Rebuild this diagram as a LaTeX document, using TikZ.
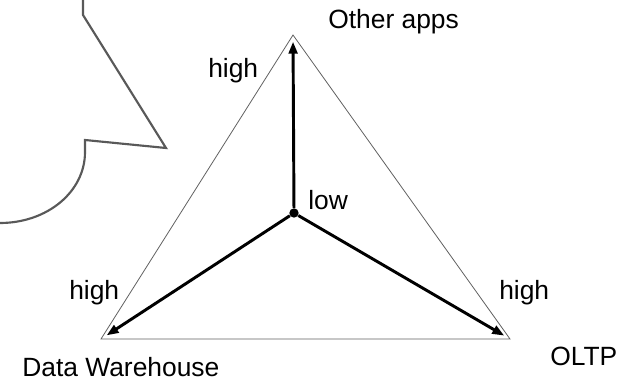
\documentclass[tikz,border=0pt]{standalone}
\usepackage{fontspec}
\setmainfont{Liberation Sans}
\usetikzlibrary{arrows.meta,positioning}
\usepackage{xcolor}

\begin{document}
\begin{tikzpicture}[
    x=0.75pt, y=-0.75pt,
    label/.style={font=\fontsize{19.8}{22}\selectfont, anchor=base west, inner sep=0pt},
    edge/.style={draw=gray!75!black, line width=0.6pt},
    flow/.style={-{Triangle[length=9pt,width=6.5pt]}, line width=2.2pt, shorten >=5pt},
    bubble/.style={draw=black!65, line width=1.6pt, line join=miter}
]
\useasboundingbox (0,0) rectangle (627,381);

% corners of the triangle
\coordinate (apps) at (293,35);
\coordinate (dw) at (101,339);
\coordinate (oltp) at (510,339);
\node[circle, fill=black, inner sep=0pt, minimum size=7pt] (hub) at (294,213) {};

\draw[edge] (apps) -- (dw) -- (oltp) -- cycle;

\draw[flow] (hub) -- (apps);
\draw[flow] (hub) -- (dw);
\draw[flow] (hub) -- (oltp);

\node[label] (appsname) at (328,29) {Other apps};
\node[label] (dwname) at (22,376) {Data Warehouse};
\node[label] (oltpname) at (550,365) {OLTP};
\node[label] (apphigh) at (208,78) {high};
\node[label] (dwhigh) at (69,299) {high};
\node[label] (oltphigh) at (499,299) {high};
\node[label] (hublow) at (308,209) {low};

% callout cut off at the left
\draw[bubble] (83,-5) -- (83,15) -- (166,148) -- (85,140) -- (85,152)
    .. controls (85,192) and (47,223) .. (0,223) -- (-5,223);
\end{tikzpicture}
\end{document}
